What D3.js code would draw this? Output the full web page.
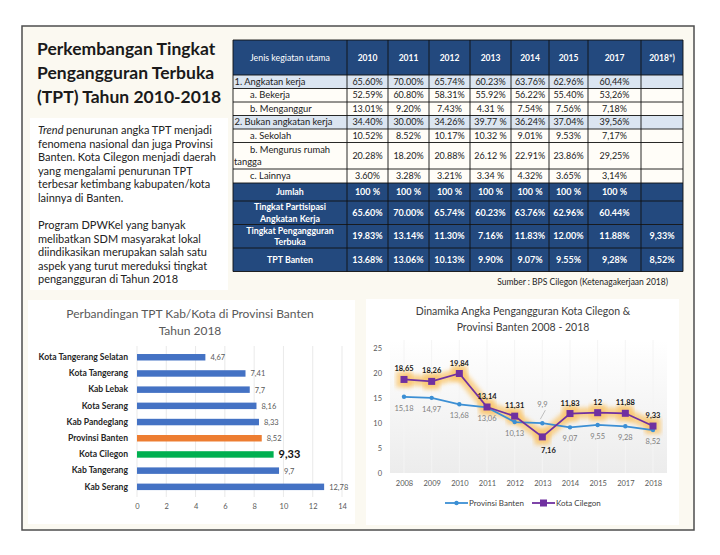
<!DOCTYPE html>
<html>
<head>
<meta charset="utf-8">
<script src="https://cdn.jsdelivr.net/npm/d3@7"></script>
<style>
  body { margin: 0; background: #fff; }
  svg { display: block; font-family: Lato, "Noto Sans", sans-serif; }
</style>
</head>
<body>
<div id="slide"></div>
<script>
// ---- table data ----
var tableYears = ['2010', '2011', '2012', '2013', '2014', '2015', '2017', '2018*)'];
var rowAngkatan = ['65.60%', '70.00%', '65.74%', '60.23%', '63.76%', '62.96%', '60,44%', ''];
var rowBekerja = ['52.59%', '60.80%', '58.31%', '55.92%', '56.22%', '55.40%', '53,26%', ''];
var rowMenganggur = ['13.01%', '9.20%', '7.43%', '4.31 %', '7.54%', '7.56%', '7,18%', ''];
var rowBukan = ['34.40%', '30.00%', '34.26%', '39.77 %', '36.24%', '37.04%', '39,56%', ''];
var rowSekolah = ['10.52%', '8.52%', '10.17%', '10.32 %', '9.01%', '9.53%', '7,17%', ''];
var rowRumah = ['20.28%', '18.20%', '20.88%', '26.12 %', '22.91%', '23.86%', '29,25%', ''];
var rowLainnya = ['3.60%', '3.28%', '3.21%', '3.34 %', '4.32%', '3.65%', '3,14%', ''];
var rowJumlah = ['100 %', '100 %', '100 %', '100 %', '100 %', '100 %', '100 %', ''];
var rowTPAK = ['65.60%', '70.00%', '65.74%', '60.23%', '63.76%', '62.96%', '60.44%', ''];
var rowTPT = ['19.83%', '13.14%', '11.30%', '7.16%', '11.83%', '12.00%', '11.88%', '9,33%'];
var rowTPTBanten = ['13.68%', '13.06%', '10.13%', '9.90%', '9.07%', '9.55%', '9,28%', '8,52%'];

// ---- bar chart data ----
var barCats = ['Kota Tangerang Selatan', 'Kota Tangerang', 'Kab Lebak', 'Kota Serang', 'Kab Pandeglang',
  'Provinsi Banten', 'Kota Cilegon', 'Kab Tangerang', 'Kab Serang'];
var barValues = [4.67, 7.41, 7.7, 8.16, 8.33, 8.52, 9.33, 9.7, 12.78];
var barTicks = [0, 2, 4, 6, 8, 10, 12, 14];

// ---- line chart data ----
var lineYears = ['2008', '2009', '2010', '2011', '2012', '2013', '2014', '2015', '2017', '2018'];
var bantenValues = [15.18, 14.97, 13.68, 13.06, 10.13, 9.9, 9.07, 9.55, 9.28, 8.52];
var cilegonValues = [18.65, 18.26, 19.84, 13.14, 11.31, 7.16, 11.83, 12, 11.88, 9.33];
var lineTicks = [0, 5, 10, 15, 20, 25];

function fmt(v) { return String(v).replace('.', ','); }

var svg = d3.select('#slide').append('svg')
  .attr('width', 720)
  .attr('height', 555);

// slide background + border
svg.append('rect')
  .attr('x', 22).attr('y', 26).attr('width', 672).attr('height', 504)
  .attr('fill', '#fbf9f1').attr('stroke', '#4d4d4d').attr('stroke-width', 1.5);

// ---- left text ----
var titleLines = ['Perkembangan Tingkat', 'Pengangguran Terbuka', '(TPT) Tahun 2010-2018'];
svg.append('g').selectAll('text')
  .data(titleLines)
  .enter().append('text')
  .attr('x', 37)
  .attr('y', function (d, i) { return 55 + i * 24; })
  .attr('font-size', 17.5)
  .attr('font-weight', 'bold')
  .attr('fill', '#1a1a1a')
  .text(function (d) { return d; });

svg.append('rect')
  .attr('x', 30).attr('y', 118).attr('width', 198).attr('height', 172)
  .attr('fill', '#ffffff');

var para1 = ['penurunan angka TPT menjadi', 'fenomena nasional dan juga Provinsi',
  'Banten. Kota Cilegon menjadi daerah', 'yang mengalami penurunan TPT',
  'terbesar ketimbang kabupaten/kota', 'lainnya di Banten.'];
var para2 = ['Program DPWKel yang banyak', 'melibatkan SDM masyarakat lokal',
  'diindikasikan merupakan salah satu', 'aspek yang turut mereduksi tingkat',
  'pengangguran di Tahun 2018'];

var pg = svg.append('g').attr('font-size', 11).attr('fill', '#222');
pg.selectAll('.p1')
  .data(para1)
  .enter().append('text')
  .attr('class', 'p1')
  .attr('x', 38)
  .attr('y', function (d, i) { return 134 + i * 13.6; })
  .each(function (d, i) {
    var t = d3.select(this);
    if (i === 0) {
      t.append('tspan').attr('font-style', 'italic').text('Trend ');
    }
    t.append('tspan').text(d);
  });
pg.selectAll('.p2')
  .data(para2)
  .enter().append('text')
  .attr('class', 'p2')
  .attr('x', 38)
  .attr('y', function (d, i) { return 229 + i * 13.6; })
  .text(function (d) { return d; });

// ---- table ----
var colEdges = [233, 347, 388, 429, 470, 511, 549, 588, 641, 683];
var tableRows = [
  { label: ['1. Angkatan kerja'], vals: rowAngkatan, kind: 'group' },
  { label: ['a. Bekerja'], vals: rowBekerja, kind: 'sub' },
  { label: ['b. Menganggur'], vals: rowMenganggur, kind: 'sub' },
  { label: ['2. Bukan angkatan kerja'], vals: rowBukan, kind: 'group' },
  { label: ['a. Sekolah'], vals: rowSekolah, kind: 'sub' },
  { label: ['b. Mengurus rumah', 'tangga'], vals: rowRumah, kind: 'sub' },
  { label: ['c. Lainnya'], vals: rowLainnya, kind: 'sub' },
  { label: ['Jumlah'], vals: rowJumlah, kind: 'dark' },
  { label: ['Tingkat Partisipasi', 'Angkatan Kerja'], vals: rowTPAK, kind: 'dark' },
  { label: ['Tingkat Pengangguran', 'Terbuka'], vals: rowTPT, kind: 'dark' },
  { label: ['TPT Banten'], vals: rowTPTBanten, kind: 'dark' }
];
var rowEdges = [40, 75, 88.5, 102, 115.5, 129, 142.5, 169, 183, 201, 224.5, 248, 271.5];
var navy = '#23497e';

var tg = svg.append('g').attr('class', 'table');

// header
tg.append('rect')
  .attr('x', colEdges[0]).attr('y', rowEdges[0])
  .attr('width', colEdges[9] - colEdges[0]).attr('height', rowEdges[1] - rowEdges[0])
  .attr('fill', navy);
tg.append('text')
  .attr('x', (colEdges[0] + colEdges[1]) / 2).attr('y', 61)
  .attr('text-anchor', 'middle').attr('font-size', 8.8).attr('fill', '#fff')
  .text('Jenis kegiatan utama');
tg.selectAll('.yr')
  .data(tableYears)
  .enter().append('text')
  .attr('class', 'yr')
  .attr('x', function (d, i) { return (colEdges[i + 1] + colEdges[i + 2]) / 2; })
  .attr('y', 61)
  .attr('text-anchor', 'middle').attr('font-size', 8.5).attr('font-weight', 'bold').attr('fill', '#fff')
  .text(function (d) { return d; });

tableRows.forEach(function (r, ri) {
  var y0 = rowEdges[ri + 1], y1 = rowEdges[ri + 2], cy = (y0 + y1) / 2;
  var fill = r.kind === 'group' ? '#dbe5f1' : (r.kind === 'dark' ? navy : '#fffdf8');
  var txt = r.kind === 'dark' ? '#fff' : '#222';
  tg.append('rect')
    .attr('x', colEdges[0]).attr('y', y0)
    .attr('width', colEdges[9] - colEdges[0]).attr('height', y1 - y0)
    .attr('fill', fill);
  // label
  r.label.forEach(function (l, li) {
    var n = r.label.length;
    var ly = cy + 3.2 + (li - (n - 1) / 2) * 11.5;
    var t = tg.append('text').attr('y', ly).attr('font-size', 9.4).attr('fill', txt).text(l);
    if (r.kind === 'dark') {
      t.attr('x', (colEdges[0] + colEdges[1]) / 2).attr('text-anchor', 'middle').attr('font-weight', 'bold').attr('font-size', 8.8);
    } else if (r.kind === 'group') {
      t.attr('x', colEdges[0] + 1.5);
    } else {
      t.attr('x', li === 0 ? colEdges[0] + 17 : colEdges[0] + 1);
    }
  });
  tg.selectAll(null)
    .data(r.vals)
    .enter().append('text')
    .attr('x', function (d, i) { return (colEdges[i + 1] + colEdges[i + 2]) / 2; })
    .attr('y', cy + 3.2)
    .attr('text-anchor', 'middle')
    .attr('font-size', 9)
    .attr('font-weight', r.kind === 'dark' ? 'bold' : 'normal')
    .attr('fill', txt)
    .text(function (d) { return d; });
});

// grid lines
tg.selectAll('.hl')
  .data(rowEdges)
  .enter().append('line')
  .attr('x1', colEdges[0]).attr('x2', colEdges[9])
  .attr('y1', function (d) { return d; }).attr('y2', function (d) { return d; })
  .attr('stroke', '#111').attr('stroke-width', 0.9);
tg.selectAll('.vl')
  .data(colEdges)
  .enter().append('line')
  .attr('y1', rowEdges[0]).attr('y2', rowEdges[rowEdges.length - 1])
  .attr('x1', function (d) { return d; }).attr('x2', function (d) { return d; })
  .attr('stroke', '#111').attr('stroke-width', 0.9);

svg.append('text')
  .attr('x', 668).attr('y', 285)
  .attr('text-anchor', 'end').attr('font-size', 8.5).attr('fill', '#222')
  .text('Sumber : BPS Cilegon (Ketenagakerjaan 2018)');

// ---- bar chart ----
svg.append('rect')
  .attr('x', 28).attr('y', 300).attr('width', 327).attr('height', 224)
  .attr('fill', '#fff');

svg.append('text')
  .attr('x', 190).attr('y', 318).attr('text-anchor', 'middle')
  .attr('font-size', 12).attr('fill', '#595959')
  .text('Perbandingan TPT Kab/Kota di Provinsi Banten');
svg.append('text')
  .attr('x', 190).attr('y', 335).attr('text-anchor', 'middle')
  .attr('font-size', 12).attr('fill', '#595959')
  .text('Tahun 2018');

var bx = d3.scaleLinear().domain([0, 14]).range([137, 342]);
var by = d3.scaleBand().domain(barCats).range([344.3, 499.8]).padding(0.6);

var bg = svg.append('g');
bg.selectAll('.grid')
  .data(barTicks)
  .enter().append('line')
  .attr('x1', function (d) { return bx(d); }).attr('x2', function (d) { return bx(d); })
  .attr('y1', 346).attr('y2', 497)
  .attr('stroke', '#e3e3e3').attr('stroke-width', 0.8);

var barAxis = bg.append('g')
  .attr('transform', 'translate(0,497)')
  .call(d3.axisBottom(bx).tickValues(barTicks).tickSize(0).tickPadding(7));
barAxis.select('.domain').remove();
barAxis.selectAll('text').attr('font-size', 7.5).attr('fill', '#595959').attr('font-family', 'Lato, sans-serif');

function barColor(c) {
  if (c === 'Provinsi Banten') return '#ed7d31';
  if (c === 'Kota Cilegon') return '#00b050';
  return '#4472c4';
}

bg.selectAll('.bar')
  .data(barCats)
  .enter().append('rect')
  .attr('x', bx(0))
  .attr('y', function (d) { return by(d); })
  .attr('width', function (d, i) { return bx(barValues[i]) - bx(0); })
  .attr('height', by.bandwidth())
  .attr('fill', barColor);

var catAxis = bg.append('g')
  .attr('transform', 'translate(' + bx(0) + ',0)')
  .call(d3.axisLeft(by).tickSize(0).tickPadding(9));
catAxis.select('.domain').remove();
catAxis.selectAll('text').attr('font-size', 8.6).attr('font-weight', 'bold')
  .attr('fill', '#262626').attr('font-family', 'Lato, sans-serif');

bg.selectAll('.blab')
  .data(barCats)
  .enter().append('text')
  .attr('x', function (d, i) { return bx(barValues[i]) + 5; })
  .attr('y', function (d) { return by(d) + by.bandwidth() / 2 + 3; })
  .attr('font-size', function (d) { return d === 'Kota Cilegon' ? 11 : 7.5; })
  .attr('font-weight', function (d) { return d === 'Kota Cilegon' ? 'bold' : 'normal'; })
  .attr('fill', function (d) { return d === 'Kota Cilegon' ? '#111' : '#595959'; })
  .attr('dy', function (d) { return d === 'Kota Cilegon' ? 1 : 0; })
  .text(function (d, i) { return fmt(barValues[i]); });

// ---- line chart ----
svg.append('rect')
  .attr('x', 366).attr('y', 299).attr('width', 313).attr('height', 226)
  .attr('fill', '#fff');

svg.append('text')
  .attr('x', 523).attr('y', 315).attr('text-anchor', 'middle')
  .attr('font-size', 10.5).attr('fill', '#404040')
  .text('Dinamika Angka Pengangguran Kota Cilegon &');
svg.append('text')
  .attr('x', 523).attr('y', 331).attr('text-anchor', 'middle')
  .attr('font-size', 10.5).attr('fill', '#404040')
  .text('Provinsi Banten 2008 - 2018');

var defs = svg.append('defs');
var grad = defs.append('linearGradient').attr('id', 'plotbg')
  .attr('x1', 0).attr('y1', 0).attr('x2', 0).attr('y2', 1);
grad.append('stop').attr('offset', '0%').attr('stop-color', '#ffffff');
grad.append('stop').attr('offset', '100%').attr('stop-color', '#ececec');
defs.append('filter').attr('id', 'glow')
  .attr('x', '-10%').attr('y', '-30%').attr('width', '120%').attr('height', '160%')
  .append('feGaussianBlur').attr('stdDeviation', 2.2);

var lx = d3.scalePoint().domain(lineYears).range([404, 653]);
var ly = d3.scaleLinear().domain([0, 25]).range([472.7, 347.7]);

var lg = svg.append('g');
lg.append('rect')
  .attr('x', 390).attr('y', 340).attr('width', 277).attr('height', 133)
  .attr('fill', 'url(#plotbg)');
lg.selectAll('.vg')
  .data(lineYears)
  .enter().append('line')
  .attr('x1', function (d) { return lx(d); }).attr('x2', function (d) { return lx(d); })
  .attr('y1', 340).attr('y2', 473)
  .attr('stroke', '#f4f4f4').attr('stroke-width', 1);

var yAx = lg.append('g')
  .attr('transform', 'translate(386,0)')
  .call(d3.axisLeft(ly).tickValues(lineTicks).tickSize(0).tickPadding(4));
yAx.select('.domain').remove();
yAx.selectAll('text').attr('font-size', 7.5).attr('fill', '#595959').attr('font-family', 'Lato, sans-serif');

var xAx = lg.append('g')
  .attr('transform', 'translate(0,473)')
  .call(d3.axisBottom(lx).tickSize(0).tickPadding(8));
xAx.select('.domain').remove();
xAx.selectAll('text').attr('font-size', 7.5).attr('fill', '#595959').attr('font-family', 'Lato, sans-serif');

var line = d3.line()
  .x(function (d, i) { return lx(lineYears[i]); })
  .y(function (d) { return ly(d); });

// glow behind Cilegon
lg.append('path')
  .attr('d', line(cilegonValues))
  .attr('fill', 'none')
  .attr('stroke', '#f9c56a')
  .attr('stroke-width', 11)
  .attr('stroke-linejoin', 'round')
  .attr('opacity', 0.75)
  .attr('filter', 'url(#glow)');
lg.selectAll('.glowpt')
  .data(cilegonValues)
  .enter().append('rect')
  .attr('x', function (d, i) { return lx(lineYears[i]) - 8; })
  .attr('y', function (d) { return ly(d) - 8; })
  .attr('width', 16).attr('height', 16)
  .attr('fill', '#f9c56a').attr('opacity', 0.75)
  .attr('filter', 'url(#glow)');

lg.append('path')
  .attr('d', line(bantenValues))
  .attr('fill', 'none')
  .attr('stroke', '#3b8fd4')
  .attr('stroke-width', 1.8);
lg.selectAll('.bpt')
  .data(bantenValues)
  .enter().append('circle')
  .attr('cx', function (d, i) { return lx(lineYears[i]); })
  .attr('cy', function (d) { return ly(d); })
  .attr('r', 2.2)
  .attr('fill', '#3b8fd4');

lg.append('path')
  .attr('d', line(cilegonValues))
  .attr('fill', 'none')
  .attr('stroke', '#7030a0')
  .attr('stroke-width', 1.8);
lg.selectAll('.cpt')
  .data(cilegonValues)
  .enter().append('rect')
  .attr('x', function (d, i) { return lx(lineYears[i]) - 3.5; })
  .attr('y', function (d) { return ly(d) - 3.5; })
  .attr('width', 7).attr('height', 7)
  .attr('fill', '#7030a0');

// Banten labels (below, except 2013 above with leader)
lg.selectAll('.blbl')
  .data(bantenValues)
  .enter().append('text')
  .attr('x', function (d, i) { return lx(lineYears[i]); })
  .attr('y', function (d, i) { return lineYears[i] === '2013' ? ly(d) - 16 : ly(d) + 14; })
  .attr('text-anchor', 'middle')
  .attr('font-size', 7.5).attr('fill', '#7f7f7f')
  .text(function (d) { return fmt(d); });
lg.append('line')
  .attr('x1', lx('2013') + 3).attr('y1', ly(bantenValues[5]) - 13)
  .attr('x2', lx('2013') - 2).attr('y2', ly(bantenValues[5]) - 4)
  .attr('stroke', '#a6a6a6').attr('stroke-width', 0.7);

// Cilegon labels (above, except 2013 below)
lg.selectAll('.clbl')
  .data(cilegonValues)
  .enter().append('text')
  .attr('x', function (d, i) { return lx(lineYears[i]) + (lineYears[i] === '2013' ? 6 : 0); })
  .attr('y', function (d, i) { return lineYears[i] === '2013' ? ly(d) + 16 : ly(d) - 8; })
  .attr('text-anchor', 'middle')
  .attr('font-size', 7.5).attr('font-weight', 'bold').attr('fill', '#1a1a1a')
  .text(function (d) { return fmt(d); });

// legend
var leg = svg.append('g').attr('transform', 'translate(0,503)');
leg.append('line').attr('x1', 445).attr('x2', 468).attr('stroke', '#3b8fd4').attr('stroke-width', 1.8);
leg.append('circle').attr('cx', 456.5).attr('r', 2.2).attr('fill', '#3b8fd4');
leg.append('text').attr('x', 469).attr('y', 3).attr('font-size', 8).attr('fill', '#404040').text('Provinsi Banten');
leg.append('line').attr('x1', 532).attr('x2', 555).attr('stroke', '#7030a0').attr('stroke-width', 1.8);
leg.append('rect').attr('x', 540).attr('y', -3.5).attr('width', 7).attr('height', 7).attr('fill', '#7030a0');
leg.append('text').attr('x', 556).attr('y', 3).attr('font-size', 8).attr('fill', '#404040').text('Kota Cilegon');
</script>
</body>
</html>
